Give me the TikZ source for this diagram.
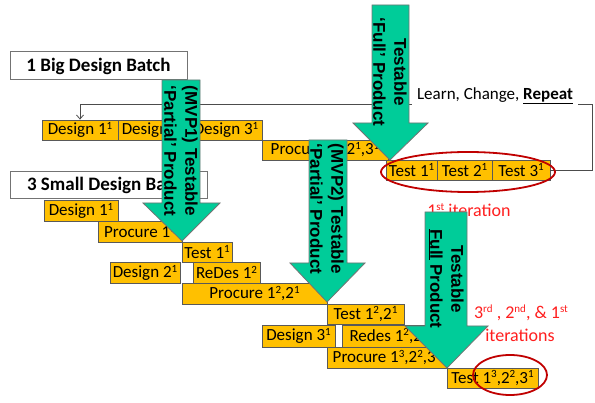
\documentclass[tikz,border=0pt]{standalone}
\usepackage{fontspec}
\setmainfont{Carlito}
\newfontfamily\arrowfont{Liberation Sans}
\usetikzlibrary{arrows.meta}
\definecolor{yel}{RGB}{255,192,0}
\definecolor{grn}{RGB}{0,204,153}
\definecolor{dred}{RGB}{192,0,0}
\definecolor{bred}{RGB}{255,30,30}
\newcommand\sps[1]{\raisebox{0.3em}{\fontsize{11}{11}\selectfont #1}}
\newcommand\yb[6]{\node[ybox,minimum width={(#4-#2)*1pt},minimum height={(#5-#3)*1pt}] (#1) at ({(#2+#4)/2},{(#3+#5)/2}) {#6};}
\begin{document}
\begin{tikzpicture}[x=1pt,y=-1pt,
  ybox/.style={draw=black!65,fill=yel,inner sep=0pt,line width=0.8pt,font=\fontsize{17}{19}\selectfont},
  hbox/.style={draw=black!55,fill=white,inner sep=0pt,line width=1pt,font=\fontsize{19}{21}\selectfont\bfseries},
  garrow/.style={fill=grn,draw=black!55,line width=0.8pt},
  atext/.style={rotate=-90,align=center,font=\arrowfont\fontsize{17}{21}\selectfont\bfseries},
  loopline/.style={draw=black!70,line width=0.8pt},
  rtext/.style={text=bred,font=\fontsize{18}{21}\selectfont,align=center},
  ring/.style={draw=dred,line width=1.8pt}]
\useasboundingbox (0,0) rectangle (595,403);
% headers
\node[hbox,minimum width=177pt,minimum height=28pt] (big) at (98.5,66) {1 Big Design Batch};
\node[hbox,minimum width=197pt,minimum height=27pt] (small) at (108.5,185.5) {3 Small Design Batch};
% big batch
\yb{d11}{42}{120}{118}{140}{Design 1\sps{1}}
\yb{d21}{118}{120}{190}{140}{Design 2\sps{1}}
\yb{d31}{190}{120}{262}{140}{Design 3\sps{1}}
\yb{p123}{262}{140}{388}{160}{Procure 1\sps{1},2\sps{1},3\sps{1}}
\yb{t1}{386}{160}{437}{180}{Test 1\sps{1}}
\yb{t2}{437}{160}{492}{180}{Test 2\sps{1}}
\yb{t3}{492}{160}{550}{180}{Test 3\sps{1}}
% small batches
\yb{sd11}{44}{200}{118}{221}{Design 1\sps{1}}
\yb{sp11}{98}{221}{182}{242}{Procure 1\sps{1}}
\yb{st11}{182}{242}{232}{262}{Test 1\sps{1}}
\yb{sd21}{110}{262}{180}{283}{Design 2\sps{1}}
\yb{srd12}{193}{262}{260}{283}{ReDes 1\sps{2}}
\yb{sp1221}{182}{283}{327}{304}{Procure 1\sps{2},2\sps{1}}
\yb{st1221}{327}{304}{404}{324}{Test 1\sps{2},2\sps{1}}
\yb{sd31}{262}{325}{335}{347}{Design 3\sps{1}}
\yb{srd}{342}{325}{435}{347}{Redes 1\sps{2},2\sps{1}}
\yb{sp}{327}{347}{447}{368}{Procure 1\sps{3},2\sps{2},3\sps{1}}
\yb{st}{447}{368}{538}{388}{Test 1\sps{3},2\sps{2},3\sps{1}}
% loop
\coordinate (lr) at (592,104);
\draw[loopline,-{Straight Barb[length=4pt,width=7pt]}] (t3.east) -- (t3.east -| lr) -- (lr) -- (d11.north |- lr) -- (d11.north);
\node[fill=white,inner xsep=5pt,inner ysep=2pt,font=\fontsize{17}{19}\selectfont] (learn) at (495,96) {Learn, Change, \underline{\textbf{Repeat}}};
% red text
\node[rtext] (it1) at (469,210) {1\sps{st} iteration};
% green arrows
\path[garrow] (372,5) -- (409,5) -- (409,123) -- (428,123) -- (390,160) -- (353,123) -- (372,123) -- cycle;
\node[atext] (full) at (390,72) {Testable\\‘Full’ Product};
\path[garrow] (162,80) -- (200,80) -- (200,203) -- (220,203) -- (182,241) -- (143,203) -- (162,203) -- cycle;
\node[atext] (mvp1) at (181,151) {(MVP1) Testable\\‘Partial’ Product};
\path[garrow] (309,140) -- (347,140) -- (347,263) -- (365,263) -- (327,302) -- (290,263) -- (309,263) -- cycle;
\node[atext] (mvp2) at (327,209) {(MVP2) Testable\\‘Partial’ Product};
\path[garrow] (425,212) -- (467,212) -- (467,326) -- (488,326) -- (447,368) -- (405,326) -- (425,326) -- cycle;
\node[atext] (full2) at (446,279) {Testable\\\underline{Full} Product};
% red text 2
\node[rtext] (it3) at (521,313) {3\sps{rd} , 2\sps{nd}, \& 1\sps{st}};
\node[rtext] (it3b) at (520,335) {iterations};
% ellipses
\draw[ring] (468,172) ellipse [x radius=87, y radius=20];
\draw[ring] (510,375) ellipse [x radius=37, y radius=20];
\end{tikzpicture}
\end{document}
